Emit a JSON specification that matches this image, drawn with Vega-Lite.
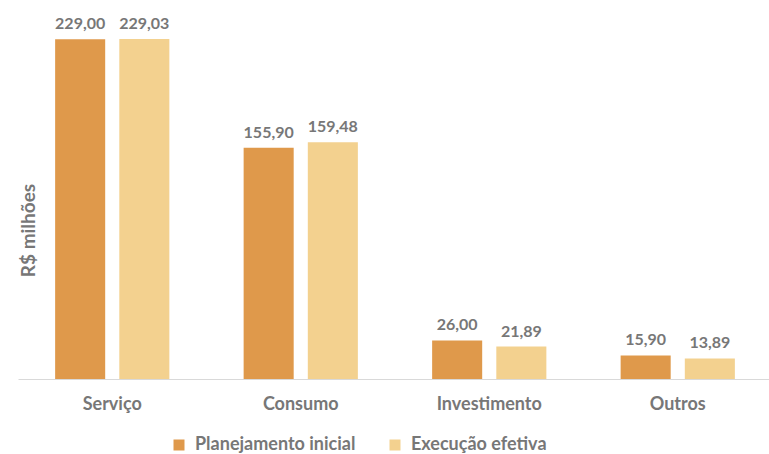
{
  "$schema": "https://vega.github.io/schema/vega-lite/v6.json",
  "width": 754,
  "height": 371,
  "autosize": {"type": "none"},
  "padding": {"left": 18, "top": 8, "right": 0, "bottom": 75},
  "config": {
    "view": {"stroke": null},
    "font": "Lato",
    "locale": {"number": {"decimal": ",", "thousands": ".", "grouping": [3], "currency": ["R$", ""]}}
  },
  "data": {
    "values": [
      {"categoria": "Serviço", "serie": "Planejamento inicial", "valor": 229.00},
      {"categoria": "Serviço", "serie": "Execução efetiva", "valor": 229.03},
      {"categoria": "Consumo", "serie": "Planejamento inicial", "valor": 155.90},
      {"categoria": "Consumo", "serie": "Execução efetiva", "valor": 159.48},
      {"categoria": "Investimento", "serie": "Planejamento inicial", "valor": 26.00},
      {"categoria": "Investimento", "serie": "Execução efetiva", "valor": 21.89},
      {"categoria": "Outros", "serie": "Planejamento inicial", "valor": 15.90},
      {"categoria": "Outros", "serie": "Execução efetiva", "valor": 13.89}
    ]
  },
  "encoding": {
    "x": {
      "field": "categoria",
      "type": "nominal",
      "sort": ["Serviço", "Consumo", "Investimento", "Outros"],
      "scale": {"paddingInner": 0.394, "paddingOuter": 0.197},
      "axis": {
        "title": null,
        "labelAngle": 0,
        "labelFontSize": 18,
        "labelFontWeight": "bold",
        "labelColor": "#777777",
        "labelPadding": 16,
        "ticks": false,
        "domainColor": "#d9d9d9",
        "domainWidth": 1
      }
    },
    "xOffset": {
      "field": "serie",
      "type": "nominal",
      "sort": ["Planejamento inicial", "Execução efetiva"],
      "scale": {"paddingInner": 0.22, "paddingOuter": 0}
    },
    "y": {
      "field": "valor",
      "type": "quantitative",
      "scale": {"domain": [0, 250], "nice": false},
      "axis": {
        "title": "R$ milhões",
        "titleFontSize": 19,
        "titleFontWeight": "bold",
        "titleColor": "#777777",
        "titleAngle": -90,
        "titleX": 10,
        "titleY": 222,
        "titleAlign": "center",
        "titleBaseline": "middle",
        "labels": false,
        "ticks": false,
        "domain": false,
        "grid": false
      }
    }
  },
  "layer": [
    {
      "mark": {"type": "bar"},
      "encoding": {
        "color": {
          "field": "serie",
          "type": "nominal",
          "sort": ["Planejamento inicial", "Execução efetiva"],
          "scale": {"domain": ["Planejamento inicial", "Execução efetiva"], "range": ["#DF994B", "#F3D18F"]},
          "legend": {
            "title": null,
            "orient": "none",
            "direction": "horizontal",
            "legendX": 152,
            "legendY": 428,
            "padding": 0,
            "symbolType": "square",
            "symbolSize": 121,
            "symbolStrokeWidth": 0,
            "labelFontSize": 18,
            "labelFontWeight": "bold",
            "labelColor": "#777777",
            "labelLimit": 400,
            "columnPadding": 30,
            "labelOffset": 7
          }
        }
      }
    },
    {
      "mark": {"type": "text", "baseline": "bottom", "dy": -7, "fontSize": 16, "fontWeight": "bold", "color": "#777777"},
      "encoding": {
        "text": {"field": "valor", "type": "quantitative", "format": ".2f"}
      }
    }
  ]
}
